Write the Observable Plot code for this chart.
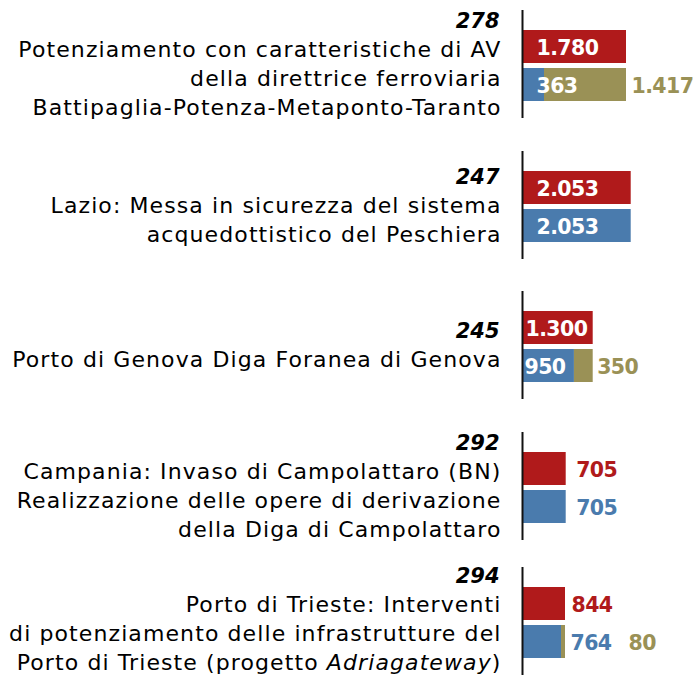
<!DOCTYPE html>
<html><head><meta charset="utf-8">
<script src="https://cdn.jsdelivr.net/npm/d3@7"></script>
<script src="https://cdn.jsdelivr.net/npm/@observablehq/plot@0.6"></script>
<style>
html,body{margin:0;padding:0;background:#fff;overflow:hidden;}
#chart{position:relative;width:693px;height:675px;overflow:hidden;}
#chart svg{position:absolute;left:0;overflow:visible;}
</style></head><body><div id="chart"></div>
<script>
// ---- data ----
const ids = ["278", "247", "245", "292", "294"];
const names = [
  ["Potenziamento con caratteristiche di AV", "della direttrice ferroviaria", "Battipaglia-Potenza-Metaponto-Taranto"],
  ["Lazio: Messa in sicurezza del sistema", "acquedottistico del Peschiera"],
  ["Porto di Genova Diga Foranea di Genova"],
  ["Campania: Invaso di Campolattaro (BN)", "Realizzazione delle opere di derivazione", "della Diga di Campolattaro"],
  ["Porto di Trieste: Interventi", "di potenziamento delle infrastrutture del", "Porto di Trieste (progetto Adriagateway)"]
];
const totale = [1780, 2053, 1300, 705, 844];
const quotaA = [363, 2053, 950, 705, 764];
const quotaB = [1417, 0, 350, 0, 80];
const seriesNames = ["totale", "quotaA", "quotaB"];

// ---- style / layout ----
const seriesColors = ["#B01A1B", "#4A7BAD", "#9A9156"];
const colorOf = Object.fromEntries(seriesNames.map((s, k) => [s, seriesColors[k]]));
const W = 693, H = 140, AXIS_X = 523, TOP = 10, BOTTOM = 22;
const groupTop = [0, 141, 281, 422, 557];
const textShift = [0, 0, 0, 0, -2.5];
const barPx = [103, 107.7, 69.7, 42.7, 42];
const labelSpec = [
  [["totale", "in", 13], ["quotaA", "in", 13], ["quotaB", "out", 5]],
  [["totale", "in", 13], ["quotaA", "in", 13]],
  [["totale", "in", 2], ["quotaA", "in", 1], ["quotaB", "out", 4]],
  [["totale", "out", 10], ["quotaA", "out", 10]],
  [["totale", "out", 6], ["quotaA", "out", 5], ["quotaB", "out", 63]]
];
const FONT = "DejaVu Sans, sans-serif";
const LINE = 29, MID = 71, NAME_SIZE = 22, NUM_SIZE = 20.5;

const fmt = d3.formatLocale({decimal: ",", thousands: ".", grouping: [3], currency: ["", ""]}).format(",d");
const container = document.getElementById("chart");

ids.forEach((id, i) => {
  const vals = {totale: totale[i], quotaA: quotaA[i], quotaB: quotaB[i]};
  const rowOf = {totale: "r", quotaA: "s", quotaB: "s"};
  const rowEnd = {r: totale[i], s: quotaA[i] + quotaB[i]};
  const bars = [
    {row: "r", series: "totale", x1: 0, x2: totale[i]},
    {row: "s", series: "quotaA", x1: 0, x2: quotaA[i]},
    {row: "s", series: "quotaB", x1: quotaA[i], x2: quotaA[i] + quotaB[i]}
  ].filter(d => d.x2 > d.x1);
  const labels = labelSpec[i].map(([s, where, dx]) => ({
    row: rowOf[s], text: fmt(vals[s]),
    x: where === "in" ? 0 : rowEnd[rowOf[s]],
    dx, fill: where === "in" ? "white" : colorOf[s]
  }));
  const n = 1 + names[i].length;
  const base = k => MID + textShift[i] + (k - (n - 1) / 2) * LINE;

  const svg = Plot.plot({
    width: W, height: H,
    marginLeft: AXIS_X, marginRight: 0, marginTop: TOP, marginBottom: BOTTOM,
    x: {domain: [0, totale[i]], range: [AXIS_X, AXIS_X + barPx[i]], axis: null},
    y: {type: "band", domain: ["r", "s"], paddingInner: 0.13, paddingOuter: 0.4675, align: 0.53, axis: null},
    color: {domain: seriesNames, range: seriesColors},
    style: {fontFamily: FONT, background: "transparent"},
    marks: [
      Plot.barX(bars, {x1: "x1", x2: "x2", y: "row", fill: "series"}),
      Plot.ruleX([0], {stroke: "#111", strokeWidth: 2, dx: -1}),
      ...labels.map(l => Plot.text([l], {
        x: "x", y: "row", text: "text", dx: l.dx, dy: 1, textAnchor: "start",
        fill: l.fill, fontWeight: "bold", fontSize: NUM_SIZE, fontFamily: FONT
      })),
      Plot.text([id], {
        text: d => d, frameAnchor: "top-left", dx: -24, dy: base(0) - TOP,
        textAnchor: "end", lineAnchor: "bottom", fontWeight: "bold", fontStyle: "italic",
        fontSize: 21, fill: "#000", fontFamily: FONT
      }),
      Plot.text([names[i].join("\n")], {
        text: d => d, frameAnchor: "top-left", dx: -22, dy: base(n - 1) - TOP,
        textAnchor: "end", lineAnchor: "bottom", lineHeight: LINE / NAME_SIZE,
        fontSize: NAME_SIZE, fill: "#000", fontFamily: FONT
      })
    ]
  });
  svg.style.top = groupTop[i] + "px";
  const s = d3.select(svg);
  s.selectAll("g").filter(function () { return this.getAttribute("font-size") === String(NAME_SIZE); })
    .selectAll("text").style("letter-spacing", "1.1px");
  s.selectAll("g").filter(function () { return this.getAttribute("font-size") === String(NUM_SIZE); })
    .selectAll("text").style("letter-spacing", "-0.6px");
  // italic project name
  s.selectAll("text, tspan").filter(function () {
    return this.childNodes.length === 1 && this.firstChild.nodeType === 3 && this.textContent.includes("Adriagateway");
  }).each(function () {
    const t = this.textContent;
    const k = t.indexOf("Adriagateway");
    this.textContent = "";
    const sel = d3.select(this);
    sel.append("tspan").text(t.slice(0, k));
    sel.append("tspan").attr("font-style", "italic").text("Adriagateway");
    sel.append("tspan").text(t.slice(k + "Adriagateway".length));
  });
  container.appendChild(svg);
});
</script></body></html>
